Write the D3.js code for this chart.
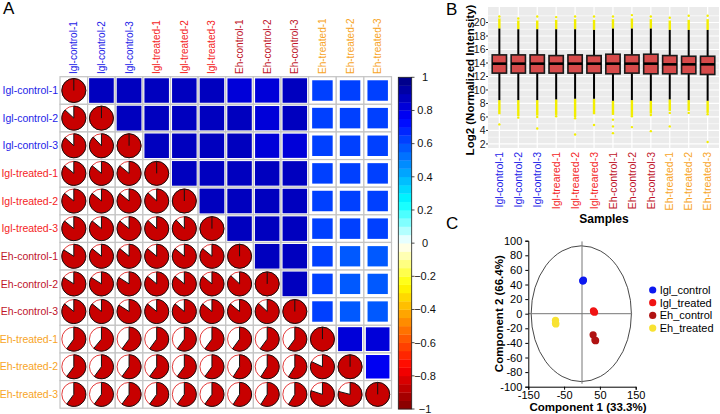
<!DOCTYPE html>
<html>
<head>
<meta charset="utf-8">
<script src="https://cdn.jsdelivr.net/npm/d3@7"></script>
<style>
  body { margin: 0; background: #fff; }
  text { font-family: "Liberation Sans", Arial, sans-serif; }
</style>
</head>
<body>
<div id="chart"></div>
<script>
// ---- data ----
const samples = ['Igl-control-1', 'Igl-control-2', 'Igl-control-3',
    'Igl-treated-1', 'Igl-treated-2', 'Igl-treated-3',
    'Eh-control-1', 'Eh-control-2', 'Eh-control-3',
    'Eh-treated-1', 'Eh-treated-2', 'Eh-treated-3'];
const samplesB = ['Igl-control-1', 'Igl-control-2', 'Igl-control-3',
    'Igl-treared-1', 'Igl-treared-2', 'Igl-treared-3',
    'Eh-control-1', 'Eh-control-2', 'Eh-control-3',
    'Eh-treated-1', 'Eh-treated-2', 'Eh-treated-3'];
const sampleGroup = [0, 0, 0, 1, 1, 1, 2, 2, 2, 3, 3, 3];
const groupColors = ['#2424e8', '#f42424', '#c0152a', '#f7a426'];

const corr = [
    [1.00, 0.87, 0.87, 0.86, 0.86, 0.86, 0.84, 0.84, 0.86, 0.60, 0.60, 0.60],
    [0.87, 1.00, 0.88, 0.86, 0.86, 0.86, 0.86, 0.84, 0.86, 0.61, 0.60, 0.60],
    [0.87, 0.88, 1.00, 0.86, 0.86, 0.86, 0.86, 0.84, 0.84, 0.60, 0.60, 0.60],
    [0.86, 0.86, 0.86, 1.00, 0.87, 0.87, 0.86, 0.86, 0.86, 0.60, 0.60, 0.60],
    [0.86, 0.86, 0.86, 0.87, 1.00, 0.88, 0.86, 0.86, 0.86, 0.60, 0.60, 0.60],
    [0.86, 0.86, 0.86, 0.87, 0.88, 1.00, 0.86, 0.86, 0.86, 0.60, 0.60, 0.60],
    [0.84, 0.86, 0.86, 0.86, 0.86, 0.86, 1.00, 0.87, 0.86, 0.60, 0.59, 0.59],
    [0.84, 0.84, 0.84, 0.86, 0.86, 0.86, 0.87, 1.00, 0.87, 0.60, 0.59, 0.59],
    [0.86, 0.86, 0.84, 0.86, 0.86, 0.86, 0.86, 0.87, 1.00, 0.60, 0.59, 0.59],
    [0.60, 0.61, 0.60, 0.60, 0.60, 0.60, 0.60, 0.60, 0.60, 1.00, 0.82, 0.80],
    [0.60, 0.60, 0.60, 0.60, 0.60, 0.60, 0.59, 0.59, 0.59, 0.82, 1.00, 0.79],
    [0.60, 0.60, 0.60, 0.60, 0.60, 0.60, 0.59, 0.59, 0.59, 0.80, 0.79, 1.00]
];
const colorStops = ['#7F0000', 'red', '#FF7F00', 'yellow', 'white', 'cyan', '#007FFF', 'blue', '#00007F'];
const colorbarTicks = [1, 0.8, 0.6, 0.4, 0.2, 0, -0.2, -0.4, -0.6, -0.8, -1];

// boxplot stats (log2 intensity)
const boxQ1 = [12.5, 12.5, 12.5, 12.5, 12.5, 12.5, 12.4, 12.5, 12.4, 12.4, 12.4, 12.3];
const boxMed = [13.9, 13.9, 13.9, 13.9, 13.9, 13.9, 13.9, 13.9, 13.9, 13.8, 13.8, 13.8];
const boxQ3 = [15.2, 15.2, 15.2, 15.1, 15.2, 15.1, 15.3, 15.2, 15.3, 15.1, 15.0, 15.0];
const whiskLo = [8.5, 8.5, 8.5, 8.6, 8.7, 8.7, 8.4, 8.5, 8.4, 8.6, 8.5, 8.4];
const whiskHi = [19.1, 19.0, 19.0, 19.0, 19.0, 18.9, 19.1, 19.1, 19.1, 18.9, 18.9, 18.9];
const outHiDense = [20.6, 20.3, 20.3, 20.4, 20.5, 20.4, 20.5, 20.6, 20.5, 20.3, 20.4, 20.5];
const outLoDense = [6.4, 6.1, 6.2, 6.3, 6.0, 6.4, 6.3, 6.2, 6.5, 6.9, 6.9, 6.6];
const outSparse = [
    [20.9, 4.9], [20.6, 5.9], [20.9, 6.0, 4.3], [20.8, 6.1],
    [20.9, 5.8, 3.4], [20.9, 4.8], [20.9, 5.6, 4.6, 3.6], [21.1, 6.1, 4.5],
    [20.9, 6.3, 3.9], [20.7, 6.6, 4.6], [21.0, 6.6], [21.0, 6.4, 2.3]
];
const yTicksB = [2, 4, 6, 8, 10, 12, 14, 16, 18, 20];

// PCA
const pcaGroups = ['Igl_control', 'Igl_treated', 'Eh_control', 'Eh_treated'];
const pcaColors = ['#0c18f0', '#f01414', '#b01212', '#f8e232'];
const pc1 = [2, 4, 3, 33, 35, 32, 31, 38, 36, -74, -74, -73];
const pc2 = [45, 46, 45, 3, 2, 4, -29, -37, -36, -9, -13, -14];
const pcaGroupOf = [0, 0, 0, 1, 1, 1, 2, 2, 2, 3, 3, 3];
const xTicksC = [-150, -50, 50, 150];
const yTicksC = [100, 80, 60, 40, 20, 0, -20, -40, -60, -80, -100];

const w = 720, h = 414;
const svg = d3.select('#chart').append('svg')
    .attr('width', w).attr('height', h);

// ================= Panel A =================
const gA = svg.append('g');
gA.append('text').attr('x', 3).attr('y', 14).attr('font-size', 17).text('A');

const bandX = d3.scaleBand().domain(d3.range(12)).range([60, 391.5]);
const bandY = d3.scaleBand().domain(d3.range(12)).range([76.7, 408.2]);
const cs = bandX.bandwidth();
const nBands = 40;
const ramp = d3.piecewise(d3.interpolateRgb, colorStops);
const colorOf = v => {
    let k = Math.floor((v + 1) / 2 * nBands + 1e-9);
    k = Math.max(0, Math.min(nBands - 1, k));
    return ramp((k + 0.5) / nBands);
};

const cells = [];
for (let i = 0; i < 12; i++) for (let j = 0; j < 12; j++) cells.push({ i, j, v: corr[i][j] });

// cell backgrounds + grid
gA.selectAll('rect.cell').data(cells).enter().append('rect')
    .attr('x', d => bandX(d.j)).attr('y', d => bandY(d.i))
    .attr('width', cs).attr('height', cs)
    .attr('fill', '#fff').attr('stroke', '#c4c4c4').attr('stroke-width', 1.2);

// upper: squares
const side = v => Math.sqrt(v) * (cs - 1.2);
gA.selectAll('rect.sq').data(cells.filter(d => d.j > d.i)).enter().append('rect')
    .attr('x', d => bandX(d.j) + cs / 2 - side(d.v) / 2)
    .attr('y', d => bandY(d.i) + cs / 2 - side(d.v) / 2)
    .attr('width', d => side(d.v))
    .attr('height', d => side(d.v))
    .attr('fill', d => colorOf(d.v));

// lower + diagonal: pies
const pr = 12;
const arc = d3.arc().innerRadius(0).outerRadius(pr).startAngle(0);
const pies = gA.selectAll('g.pie').data(cells.filter(d => d.j <= d.i)).enter().append('g')
    .attr('transform', d => `translate(${bandX(d.j) + cs / 2},${bandY(d.i) + cs / 2})`);
pies.append('circle').attr('r', pr)
    .attr('fill', '#fff').attr('stroke', '#e02626').attr('stroke-width', 0.9);
pies.append('path')
    .attr('d', d => d.i === d.j ? null : arc({ endAngle: d.v * 2 * Math.PI }))
    .attr('fill', '#c80000').attr('stroke', '#111').attr('stroke-width', 1);
pies.filter(d => d.i === d.j).append('circle').attr('r', pr)
    .attr('fill', '#c80000').attr('stroke', '#111').attr('stroke-width', 1);
pies.filter(d => d.i === d.j).append('line')
    .attr('x1', 0).attr('y1', 0).attr('x2', 0).attr('y2', -pr)
    .attr('stroke', '#111').attr('stroke-width', 1);

// labels
gA.selectAll('text.rowlab').data(samples).enter().append('text')
    .attr('x', 58).attr('y', (d, i) => bandY(i) + cs / 2).attr('dy', '0.35em')
    .attr('text-anchor', 'end').attr('font-size', 10.5)
    .attr('fill', (d, i) => groupColors[sampleGroup[i]]).text(d => d);
gA.selectAll('text.collab').data(samples).enter().append('text')
    .attr('transform', (d, i) => `translate(${bandX(i) + cs / 2},74) rotate(-90)`)
    .attr('dy', '0.35em').attr('font-size', 10)
    .attr('fill', (d, i) => groupColors[sampleGroup[i]]).text(d => d);

// colorbar
const cbY = d3.scaleLinear().domain([-1, 1]).range([409, 77.3]);
const cbBands = d3.range(nBands).map(k => -1 + k * 2 / nBands);
gA.selectAll('rect.cb').data(cbBands).enter().append('rect')
    .attr('x', 398.3).attr('width', 13.4)
    .attr('y', d => cbY(d + 2 / nBands)).attr('height', cbY(-1) - cbY(-1 + 2 / nBands) + 0.3)
    .attr('fill', d => colorOf(d + 1 / nBands));
gA.append('rect').attr('x', 398.3).attr('y', 77.3).attr('width', 13.4).attr('height', 409 - 77.3)
    .attr('fill', 'none').attr('stroke', '#222').attr('stroke-width', 0.8);
gA.selectAll('line.cbt').data(colorbarTicks).enter().append('line')
    .attr('x1', 411.7).attr('x2', 414.5).attr('y1', d => cbY(d)).attr('y2', d => cbY(d))
    .attr('stroke', '#222').attr('stroke-width', 0.8);
gA.selectAll('text.cbl').data(colorbarTicks).enter().append('text')
    .attr('x', 425).attr('y', d => cbY(d)).attr('dy', '0.35em')
    .attr('text-anchor', 'middle').attr('font-size', 11).attr('fill', '#111')
    .text(d => d < 0 ? '\u2212' + Math.abs(d) : d);

// ================= Panel B =================
const gB = svg.append('g');
gB.append('text').attr('x', 446).attr('y', 15).attr('font-size', 17).text('B');

const xB = d3.scalePoint().domain(d3.range(12)).range([488, 719]).padding(0.6);
const yB = d3.scaleLinear().domain([1.4, 22.3]).range([148, 7]);

gB.append('rect').attr('x', 488).attr('y', 7).attr('width', 231).attr('height', 141).attr('fill', '#ebebeb');
const minorB = d3.range(3, 22, 2);
gB.selectAll('line.minor').data(minorB).enter().append('line')
    .attr('x1', 488).attr('x2', 719).attr('y1', d => yB(d)).attr('y2', d => yB(d))
    .attr('stroke', '#fff').attr('stroke-width', 0.6);
gB.selectAll('line.major').data(yTicksB).enter().append('line')
    .attr('x1', 488).attr('x2', 719).attr('y1', d => yB(d)).attr('y2', d => yB(d))
    .attr('stroke', '#fff').attr('stroke-width', 1.2);
gB.selectAll('line.vmajor').data(d3.range(12)).enter().append('line')
    .attr('x1', d => xB(d)).attr('x2', d => xB(d)).attr('y1', 7).attr('y2', 148)
    .attr('stroke', '#fff').attr('stroke-width', 1.2);

const boxes = gB.selectAll('g.box').data(d3.range(12)).enter().append('g');
const bw = 14.3;
boxes.append('rect')
    .attr('x', d => xB(d) - 1.2).attr('width', 2.4)
    .attr('y', d => yB(outHiDense[d])).attr('height', d => yB(whiskHi[d]) - yB(outHiDense[d]))
    .attr('fill', '#f2ee00');
boxes.append('rect')
    .attr('x', d => xB(d) - 1.2).attr('width', 2.4)
    .attr('y', d => yB(whiskLo[d])).attr('height', d => yB(outLoDense[d]) - yB(whiskLo[d]))
    .attr('fill', '#f2ee00');
boxes.each(function (d) {
    d3.select(this).selectAll('circle').data(outSparse[d]).enter().append('circle')
        .attr('cx', xB(d)).attr('cy', v => yB(v)).attr('r', 1.2).attr('fill', '#f2ee00');
});
boxes.append('line')
    .attr('x1', d => xB(d)).attr('x2', d => xB(d))
    .attr('y1', d => yB(whiskHi[d])).attr('y2', d => yB(whiskLo[d]))
    .attr('stroke', '#000').attr('stroke-width', 2);
boxes.append('rect')
    .attr('x', d => xB(d) - bw / 2).attr('width', bw)
    .attr('y', d => yB(boxQ3[d])).attr('height', d => yB(boxQ1[d]) - yB(boxQ3[d]))
    .attr('fill', '#d64a4a').attr('stroke', '#1a1a1a').attr('stroke-width', 1.6);
boxes.append('line')
    .attr('x1', d => xB(d) - bw / 2).attr('x2', d => xB(d) + bw / 2)
    .attr('y1', d => yB(boxMed[d])).attr('y2', d => yB(boxMed[d]))
    .attr('stroke', '#000').attr('stroke-width', 2.6);

// y axis B
gB.selectAll('line.yt').data(yTicksB).enter().append('line')
    .attr('x1', 486).attr('x2', 488).attr('y1', d => yB(d)).attr('y2', d => yB(d))
    .attr('stroke', '#333').attr('stroke-width', 1);
gB.selectAll('text.ytl').data(yTicksB).enter().append('text')
    .attr('x', 485.5).attr('y', d => yB(d)).attr('dy', '0.35em')
    .attr('text-anchor', 'end').attr('font-size', 10.5).attr('fill', '#222').text(d => d);
gB.append('text').attr('transform', 'translate(474,80) rotate(-90)')
    .attr('text-anchor', 'middle').attr('font-size', 11.5).attr('font-weight', 'bold')
    .text('Log2 (Normalized Intensity)');
gB.selectAll('text.xbl').data(samplesB).enter().append('text')
    .attr('transform', (d, i) => `translate(${xB(i)},152) rotate(-90)`)
    .attr('dy', '0.35em').attr('text-anchor', 'end').attr('font-size', 10.5)
    .attr('fill', (d, i) => groupColors[sampleGroup[i]]).text(d => d);
gB.append('text').attr('x', 604).attr('y', 223).attr('text-anchor', 'middle')
    .attr('font-size', 12).attr('font-weight', 'bold').text('Samples');

// ================= Panel C =================
const gC = svg.append('g');
gC.append('text').attr('x', 446).attr('y', 229).attr('font-size', 17).text('C');

const xC = d3.scaleLinear().domain([-150, 150]).range([528.3, 635.7]);
const yC = d3.scaleLinear().domain([-100, 100]).range([386.7, 240.7]);

gC.append('ellipse')
    .attr('cx', xC(-2)).attr('cy', yC(0))
    .attr('rx', xC(140) - xC(0)).attr('ry', yC(0) - yC(93))
    .attr('fill', 'none').attr('stroke', '#333').attr('stroke-width', 0.9);
gC.append('line').attr('x1', xC(-150)).attr('x2', xC(140)).attr('y1', yC(0)).attr('y2', yC(0))
    .attr('stroke', '#777').attr('stroke-width', 1);
gC.append('line').attr('x1', xC(0)).attr('x2', xC(0)).attr('y1', yC(99)).attr('y2', yC(-96))
    .attr('stroke', '#777').attr('stroke-width', 1);

const xAxisC = d3.axisBottom(xC).tickValues(xTicksC).tickSize(3).tickFormat(d => d < 0 ? '-' + Math.abs(d) : d);
gC.append('g').attr('transform', `translate(0,${yC(-100)})`).call(xAxisC)
    .call(g => g.select('.domain').attr('stroke', '#000'))
    .call(g => g.selectAll('text').attr('font-size', 11).attr('fill', '#000')
        .attr('font-family', '"Liberation Sans", Arial, sans-serif').attr('dy', '0.6em'));
const yAxisC = d3.axisLeft(yC).tickValues(yTicksC).tickSize(3).tickFormat(d => d < 0 ? '-' + Math.abs(d) : d);
gC.append('g').attr('transform', `translate(${xC(-150)},0)`).call(yAxisC)
    .call(g => g.select('.domain').attr('stroke', '#000'))
    .call(g => g.selectAll('text').attr('font-size', 11).attr('fill', '#000')
        .attr('font-family', '"Liberation Sans", Arial, sans-serif'));

gC.selectAll('circle.pt').data(d3.range(pc1.length)).enter().append('circle')
    .attr('cx', i => xC(pc1[i])).attr('cy', i => yC(pc2[i])).attr('r', 3.6)
    .attr('fill', i => pcaColors[pcaGroupOf[i]]);

gC.append('text').attr('transform', `translate(503,${yC(0)}) rotate(-90)`)
    .attr('text-anchor', 'middle').attr('font-size', 11.5).attr('font-weight', 'bold')
    .text('Component 2 (66.4%)');
gC.append('text').attr('x', 588).attr('y', 411).attr('text-anchor', 'middle')
    .attr('font-size', 11.5).attr('font-weight', 'bold').text('Component 1 (33.3%)');

const leg = gC.selectAll('g.leg').data(pcaGroups).enter().append('g')
    .attr('transform', (d, i) => `translate(652.7,${290 + i * 12.7})`);
leg.append('circle').attr('r', 3.6).attr('fill', (d, i) => pcaColors[i]);
leg.append('text').attr('x', 7).attr('dy', '0.35em').attr('font-size', 11).text(d => d);
</script>
</body>
</html>
